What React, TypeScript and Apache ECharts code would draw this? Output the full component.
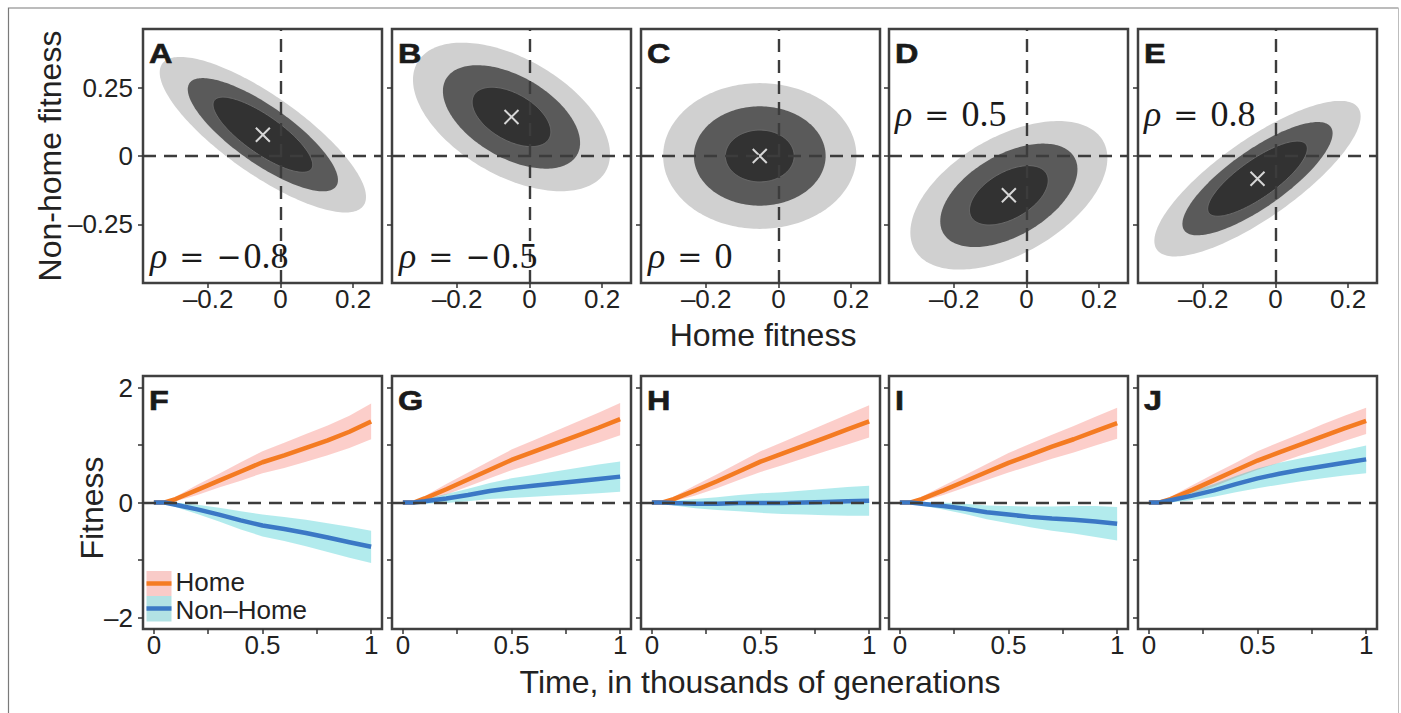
import React, { useEffect, useRef } from 'react';
import * as echarts from 'echarts';

// ---------- DATA ----------
const topLetters = ['A', 'B', 'C', 'D', 'E'];
const bottomLetters = ['F', 'G', 'H', 'I', 'J'];
const rhoValues = [-0.8, -0.5, 0, 0.5, 0.8];
const rhoSigns = ['−', '−', '', '', ''];
const rhoNumbers = ['0.8', '0.5', '0', '0.5', '0.8'];
const meanHomeFitness = [-0.049, -0.05, -0.052, -0.049, -0.05];
const meanNonHomeFitness = [0.078, 0.143, 0, -0.144, -0.083];
const contourSigma = 0.0985;
const contourLevels = [7.34, 3.41, 0.93]; // squared Mahalanobis radius at rho = 0
const contourColors = ['#d0d0d0', '#5a5a5a', '#323232'];

const topXTicks = [-0.2, 0, 0.2];
const topYTicks = [-0.25, 0, 0.25];
const bottomXTicks = [0, 0.25, 0.5, 0.75, 1];
const bottomXLabels = [0, 0.5, 1];
const bottomYTicks = [-2, -1, 0, 1, 2];
const bottomYLabels = [-2, 0, 2];

const timePoints = [0, 0.05, 0.1, 0.2, 0.3, 0.4, 0.5, 0.6, 0.7, 0.8, 0.9, 1.0];
const homeMean = [
  [0, 0, 0.06, 0.22, 0.38, 0.54, 0.70, 0.82, 0.95, 1.08, 1.23, 1.41],
  [0, 0, 0.07, 0.23, 0.40, 0.57, 0.74, 0.88, 1.02, 1.16, 1.30, 1.45],
  [0, 0, 0.06, 0.21, 0.37, 0.54, 0.71, 0.85, 0.99, 1.13, 1.27, 1.41],
  [0, 0, 0.06, 0.21, 0.37, 0.53, 0.69, 0.83, 0.97, 1.10, 1.24, 1.38],
  [0, 0, 0.06, 0.22, 0.39, 0.56, 0.73, 0.87, 1.01, 1.15, 1.29, 1.42],
];
const homeSpread = [
  [0, 0.01, 0.04, 0.09, 0.12, 0.16, 0.19, 0.22, 0.24, 0.26, 0.28, 0.31],
  [0, 0.01, 0.04, 0.09, 0.12, 0.15, 0.18, 0.20, 0.22, 0.24, 0.26, 0.28],
  [0, 0.01, 0.04, 0.09, 0.12, 0.15, 0.18, 0.20, 0.22, 0.24, 0.26, 0.28],
  [0, 0.01, 0.04, 0.08, 0.11, 0.14, 0.17, 0.19, 0.21, 0.23, 0.25, 0.27],
  [0, 0.01, 0.04, 0.08, 0.11, 0.13, 0.16, 0.18, 0.19, 0.21, 0.22, 0.23],
];
const nonHomeMean = [
  [0, 0, -0.04, -0.12, -0.21, -0.31, -0.40, -0.46, -0.53, -0.61, -0.69, -0.77],
  [0, 0, 0.02, 0.07, 0.13, 0.20, 0.25, 0.29, 0.33, 0.37, 0.41, 0.45],
  [0, 0, -0.01, -0.02, -0.02, -0.01, -0.01, -0.01, 0, 0.01, 0.02, 0.03],
  [0, 0, -0.02, -0.06, -0.11, -0.17, -0.21, -0.25, -0.28, -0.30, -0.33, -0.37],
  [0, 0, 0.04, 0.12, 0.21, 0.32, 0.42, 0.50, 0.57, 0.63, 0.69, 0.75],
];
const nonHomeSpread = [
  [0, 0.01, 0.04, 0.08, 0.12, 0.16, 0.19, 0.21, 0.23, 0.25, 0.27, 0.28],
  [0, 0.01, 0.04, 0.08, 0.11, 0.14, 0.17, 0.19, 0.21, 0.23, 0.25, 0.265],
  [0, 0.01, 0.04, 0.08, 0.11, 0.14, 0.17, 0.19, 0.21, 0.23, 0.25, 0.26],
  [0, 0.01, 0.03, 0.06, 0.09, 0.12, 0.15, 0.18, 0.21, 0.24, 0.27, 0.29],
  [0, 0.01, 0.04, 0.08, 0.11, 0.14, 0.17, 0.19, 0.20, 0.21, 0.22, 0.24],
];

// ---------- STYLE / LAYOUT ----------
const FONT = '"Liberation Sans", Arial, Helvetica, sans-serif';
const SERIF = '"Liberation Serif", "Times New Roman", serif';
const MATHOP = '"DejaVu Serif", serif';
const TEXT = '#222';
const FRAME = '#404040';
const gridLefts = [143, 392, 641, 889, 1138];
const gridW = 239;
const topRowTop = 29;
const topRowH = 254;
const botRowTop = 376;
const botRowH = 253;
const homeLine = '#f47b22';
const nonHomeLine = '#3b78c5';
const homeBand = 'rgba(248,118,109,0.36)';
const nonHomeBand = 'rgba(0,190,195,0.30)';
const dashStyle = { color: '#3c3c3c', width: 2.4, type: [13, 8] as any };

const fmt = (v: number) => (v < 0 ? '–' + String(Math.abs(v)) : String(v));

function buildOption(): any {
  const grid: any[] = [];
  const xAxis: any[] = [];
  const yAxis: any[] = [];
  const series: any[] = [];
  const elements: any[] = [];

  const tickStyle = { show: true, inside: false, length: 5, lineStyle: { color: '#333', width: 1.5 } };
  const labelBase = { fontSize: 26, color: TEXT, fontFamily: FONT };

  const letter = (text: string, x: number, y: number) => ({
    type: 'text', x, y, scaleX: 1.2, silent: true, z: 20,
    style: {
      text, fill: '#1a1a1a', stroke: '#1a1a1a', lineWidth: 0.6, fontSize: 27, fontWeight: 'bold', fontFamily: FONT,
      align: 'left', textAlign: 'left', verticalAlign: 'middle', textVerticalAlign: 'middle',
    },
  });

  for (let i = 0; i < 5; i++) {
    grid.push({ left: gridLefts[i], top: topRowTop, width: gridW, height: topRowH, show: true, borderColor: FRAME, borderWidth: 2.5, containLabel: false });
    xAxis.push({
      type: 'value', gridIndex: i, min: -0.38, max: 0.28,
      splitLine: { show: false }, axisLine: { show: false, onZero: false },
      axisTick: { ...tickStyle, customValues: topXTicks },
      axisLabel: { ...labelBase, show: true, margin: 3, customValues: topXTicks, formatter: fmt },
    });
    yAxis.push({
      type: 'value', gridIndex: i, min: -0.465, max: 0.465,
      splitLine: { show: false }, axisLine: { show: false, onZero: false },
      axisTick: { ...tickStyle, customValues: topYTicks },
      axisLabel: { ...labelBase, show: i === 0, margin: 10, customValues: topYTicks, formatter: fmt },
    });
    const rho = rhoValues[i];
    series.push({
      type: 'custom', coordinateSystem: 'cartesian2d', xAxisIndex: i, yAxisIndex: i, silent: true, z: 2,
      data: contourLevels.map((q, k) => [meanHomeFitness[i], meanNonHomeFitness[i], q, k]),
      renderItem: (params: any, api: any) => {
        const mx = api.value(0);
        const my = api.value(1);
        const q0 = api.value(2);
        const k = api.value(3);
        const q = q0 + Math.log(1 / (1 - rho * rho));
        const r = contourSigma * Math.sqrt(q);
        const c = Math.sqrt(1 - rho * rho);
        const pts: number[][] = [];
        for (let a = 0; a < 200; a++) {
          const th = (a / 200) * Math.PI * 2;
          pts.push(api.coord([mx + r * Math.cos(th), my + r * (rho * Math.cos(th) + c * Math.sin(th))]));
        }
        return {
          type: 'polygon', shape: { points: pts },
          style: { fill: contourColors[k], stroke: k === 2 ? '#6c6c6c' : 'none', lineWidth: 1 },
        };
      },
    });
    series.push({
      type: 'scatter', xAxisIndex: i, yAxisIndex: i, silent: true, z: 4,
      data: [[meanHomeFitness[i], meanNonHomeFitness[i]]],
      symbol: 'path://M0 0L10 10M10 0L0 10', symbolSize: 14,
      itemStyle: { color: 'rgba(0,0,0,0)', borderColor: '#ffffff', borderWidth: 2 },
      emphasis: { disabled: true },
      markLine: {
        silent: true, symbol: ['none', 'none'], label: { show: false }, lineStyle: dashStyle,
        emphasis: { disabled: true },
        data: [{ xAxis: 0 }, { yAxis: 0 }],
      },
    });

    elements.push(letter(topLetters[i], gridLefts[i] + 6, 53));
    // rho label
    const atTop = i >= 3;
    elements.push({
      type: 'text', x: gridLefts[i] + (atTop ? 6 : 7), y: atTop ? 114 : 256, silent: true, z: 20,
      style: {
        text: '{it|ρ}{eq|=}' + (rhoSigns[i] ? '{op|' + rhoSigns[i] + '}' : '') + '{num|' + rhoNumbers[i] + '}',
        fill: '#1a1a1a', fontSize: 36, fontFamily: SERIF,
        align: 'left', textAlign: 'left', verticalAlign: 'middle', textVerticalAlign: 'middle',
        rich: {
          it: { fontStyle: 'italic', fontSize: 36, fontFamily: SERIF, fill: '#1a1a1a' },
          eq: { fontSize: 30, fontFamily: MATHOP, fill: '#1a1a1a', padding: [0, 12, 0, 12] },
          op: { fontSize: 30, fontFamily: MATHOP, fill: '#1a1a1a', padding: [0, 2, 0, 0] },
          num: { fontSize: 36, fontFamily: SERIF, fill: '#1a1a1a' },
        },
      },
    });
  }

  for (let i = 0; i < 5; i++) {
    const g = i + 5;
    grid.push({ left: gridLefts[i], top: botRowTop, width: gridW, height: botRowH, show: true, borderColor: FRAME, borderWidth: 2.5, containLabel: false });
    xAxis.push({
      type: 'value', gridIndex: g, min: -0.05, max: 1.05,
      splitLine: { show: false }, axisLine: { show: false, onZero: false },
      axisTick: { ...tickStyle, customValues: bottomXTicks },
      axisLabel: { ...labelBase, show: true, margin: 3, customValues: bottomXLabels, formatter: fmt },
    });
    yAxis.push({
      type: 'value', gridIndex: g, min: -2.2, max: 2.2,
      splitLine: { show: false }, axisLine: { show: false, onZero: false },
      axisTick: { ...tickStyle, customValues: bottomYTicks },
      axisLabel: { ...labelBase, show: i === 0, margin: 10, customValues: bottomYLabels, formatter: fmt },
    });
    const bands = [
      { mean: homeMean[i], spread: homeSpread[i], fill: homeBand },
      { mean: nonHomeMean[i], spread: nonHomeSpread[i], fill: nonHomeBand },
    ];
    bands.forEach((b) => {
      series.push({
        type: 'custom', coordinateSystem: 'cartesian2d', xAxisIndex: g, yAxisIndex: g, silent: true, z: 2,
        data: timePoints.map((t, j) => [t, b.mean[j] - b.spread[j], b.mean[j] + b.spread[j]]),
        renderItem: (params: any, api: any) => {
          if (params.dataIndex !== 0) return { type: 'group', children: [] };
          const n = timePoints.length;
          const upper: number[][] = [];
          const lower: number[][] = [];
          for (let j = 0; j < n; j++) {
            upper.push(api.coord([api.value(0, j), api.value(2, j)]));
            lower.push(api.coord([api.value(0, j), api.value(1, j)]));
          }
          return { type: 'polygon', shape: { points: upper.concat(lower.reverse()) }, style: { fill: b.fill } };
        },
      });
    });
    series.push({
      type: 'line', xAxisIndex: g, yAxisIndex: g, silent: true, z: 3, symbol: 'none', showSymbol: false,
      name: 'Home',
      data: timePoints.map((t, j) => [t, homeMean[i][j]]),
      lineStyle: { color: homeLine, width: 4.5 },
      emphasis: { disabled: true },
    });
    series.push({
      type: 'line', xAxisIndex: g, yAxisIndex: g, silent: true, z: 4, symbol: 'none', showSymbol: false,
      name: 'Non–Home',
      data: timePoints.map((t, j) => [t, nonHomeMean[i][j]]),
      lineStyle: { color: nonHomeLine, width: 4.5 },
      emphasis: { disabled: true },
      markLine: {
        silent: true, symbol: ['none', 'none'], label: { show: false }, lineStyle: dashStyle,
        emphasis: { disabled: true },
        data: [{ yAxis: 0 }],
      },
    });
    elements.push(letter(bottomLetters[i], gridLefts[i] + 6, 400));
  }

  // axis titles
  const title = (text: string, x: number, y: number, rot = 0) => ({
    type: 'text', x, y, rotation: rot, silent: true, z: 20,
    style: { text, fill: TEXT, fontSize: 32, fontFamily: FONT, align: 'center', textAlign: 'center', verticalAlign: 'middle', textVerticalAlign: 'middle' },
  });
  elements.push(title('Non-home fitness', 50, 156, Math.PI / 2));
  elements.push(title('Home fitness', 763, 335));
  elements.push(title('Fitness', 92, 508, Math.PI / 2));
  elements.push(title('Time, in thousands of generations', 760, 682));

  // legend (panel F)
  elements.push({ type: 'rect', silent: true, z: 15, shape: { x: 146.5, y: 571, width: 25, height: 25 }, style: { fill: '#f9cbc8' } });
  elements.push({ type: 'rect', silent: true, z: 15, shape: { x: 146.5, y: 596, width: 25, height: 25.5 }, style: { fill: '#b2e2e4' } });
  elements.push({ type: 'line', silent: true, z: 16, shape: { x1: 146.5, y1: 583.5, x2: 171.5, y2: 583.5 }, style: { stroke: homeLine, lineWidth: 4.5 } });
  elements.push({ type: 'line', silent: true, z: 16, shape: { x1: 146.5, y1: 608.5, x2: 171.5, y2: 608.5 }, style: { stroke: nonHomeLine, lineWidth: 4.5 } });
  const legText = (text: string, y: number) => ({
    type: 'text', x: 175.5, y, silent: true, z: 16,
    style: { text, fill: TEXT, fontSize: 26, fontFamily: FONT, align: 'left', textAlign: 'left', verticalAlign: 'middle', textVerticalAlign: 'middle' },
  });
  elements.push(legText('Home', 582));
  elements.push(legText('Non–Home', 610));

  // outer figure frame
  elements.push({ type: 'polyline', silent: true, z: 1, shape: { points: [[8.5, 713], [8.5, 8], [1398.5, 8]] }, style: { stroke: '#7a7a7a', lineWidth: 1.2, fill: 'none' } });
  elements.push({ type: 'line', silent: true, z: 1, shape: { x1: 1398.5, y1: 8, x2: 1398.5, y2: 713 }, style: { stroke: '#bdbdbd', lineWidth: 1 } });

  return {
    animation: false,
    backgroundColor: '#ffffff',
    grid, xAxis, yAxis, series,
    graphic: { elements },
  };
}

export default function App() {
  const ref = useRef<HTMLDivElement>(null);
  useEffect(() => {
    const chart = echarts.init(ref.current as HTMLDivElement, null, { renderer: 'svg' });
    chart.setOption(buildOption());
    return () => chart.dispose();
  }, []);
  return (
    <div
      ref={ref}
      style={{ position: 'absolute', left: 0, top: 0, width: 1401, height: 713, background: '#fff' }}
    />
  );
}
